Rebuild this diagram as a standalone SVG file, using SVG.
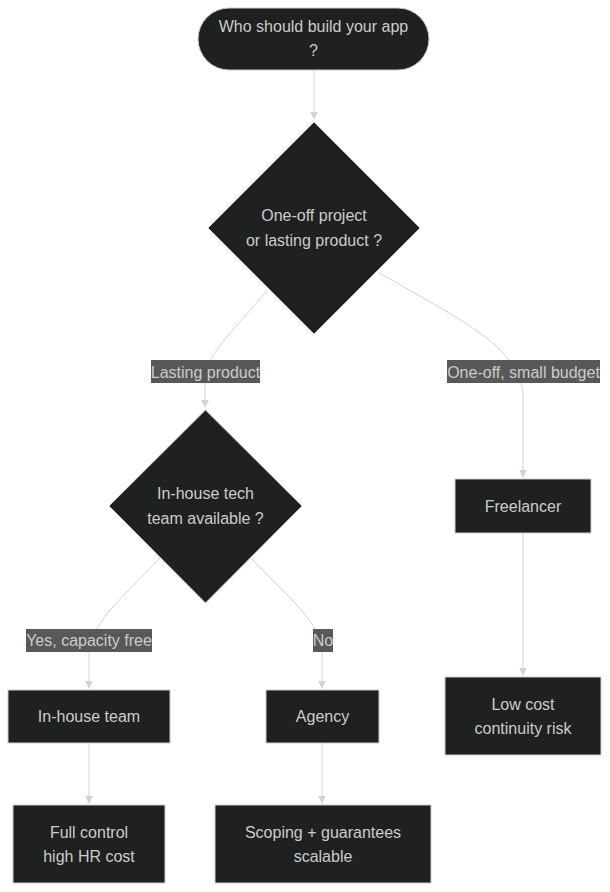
<svg xmlns="http://www.w3.org/2000/svg" width="610" height="892" viewBox="0 0 610 892">
<style>
.n{fill:#1f2020;stroke:#cccccc;stroke-width:1}
.t{font-family:"Liberation Sans",Arial,sans-serif;font-size:16px;fill:#cccccc;text-anchor:middle;dominant-baseline:central}
.e{fill:none;stroke:#d3d3d3;stroke-width:1}
.lb{fill:#585858;stroke:none}
</style>
<defs>
<marker id="ah" viewBox="0 0 10 10" refX="9" refY="5" markerWidth="8" markerHeight="8" markerUnits="userSpaceOnUse" orient="auto">
<path d="M0,0 L10,5 L0,10 z" fill="#d3d3d3"/>
</marker>
</defs>
<rect width="610" height="892" fill="#ffffff"/>
<g id="edges">
<path class="e" d="M314,70 L314,119" marker-end="url(#ah)"/>
<path class="e" d="M267,290 C240,325 206,352 205,380 L205,407" marker-end="url(#ah)"/>
<path class="e" d="M378,272 C450,315 521,345 523,395 L523,477" marker-end="url(#ah)"/>
<path class="e" d="M160,558 C120,600 89,625 89,655 L89,688" marker-end="url(#ah)"/>
<path class="e" d="M252,559 C290,600 322,622 322,655 L322,688" marker-end="url(#ah)"/>
<path class="e" d="M89,743 L89,803" marker-end="url(#ah)"/>
<path class="e" d="M322,743 L322,803" marker-end="url(#ah)"/>
<path class="e" d="M523,533 L523,675" marker-end="url(#ah)"/>
</g>
<g id="edge-labels">
<g id="lbl-lasting"><rect class="lb" x="151" y="360" width="109" height="23"/><text class="t" x="205.5" y="372">Lasting product</text></g>
<g id="lbl-oneoff"><rect class="lb" x="447" y="360" width="153" height="23"/><text class="t" x="523.5" y="372">One-off, small budget</text></g>
<g id="lbl-yes"><rect class="lb" x="26" y="629" width="126" height="23"/><text class="t" x="89" y="640">Yes, capacity free</text></g>
<g id="lbl-no"><rect class="lb" x="313" y="629" width="20" height="23"/><text class="t" x="323" y="640">No</text></g>
</g>
<g id="start"><rect class="n" x="198" y="8" width="231" height="62" rx="31" ry="31"/><text class="t" x="313.5" y="26">Who should build your app</text><text class="t" x="313.5" y="50">?</text></g>
<g id="q1"><polygon class="n" points="314,122 420,228 314,334 208,228"/><text class="t" x="314" y="215">One-off project</text><text class="t" x="314" y="240">or lasting product ?</text></g>
<g id="q2"><polygon class="n" points="205.5,410 302,506 205.5,603 109,506"/><text class="t" x="205.5" y="493">In-house tech</text><text class="t" x="205.5" y="518">team available ?</text></g>
<g id="freelancer"><rect class="n" x="455" y="479" width="136" height="54"/><text class="t" x="523" y="506">Freelancer</text></g>
<g id="lowcost"><rect class="n" x="445" y="677" width="156" height="78"/><text class="t" x="523" y="704">Low cost</text><text class="t" x="523" y="728">continuity risk</text></g>
<g id="inhouse"><rect class="n" x="8" y="690" width="162" height="53"/><text class="t" x="89" y="716">In-house team</text></g>
<g id="agency"><rect class="n" x="266" y="690" width="113" height="53"/><text class="t" x="322.5" y="716">Agency</text></g>
<g id="fullcontrol"><rect class="n" x="13" y="805" width="152" height="78"/><text class="t" x="89" y="832">Full control</text><text class="t" x="89" y="856">high HR cost</text></g>
<g id="scoping"><rect class="n" x="215" y="805" width="216" height="78"/><text class="t" x="323" y="832">Scoping + guarantees</text><text class="t" x="323" y="856">scalable</text></g>
</svg>
